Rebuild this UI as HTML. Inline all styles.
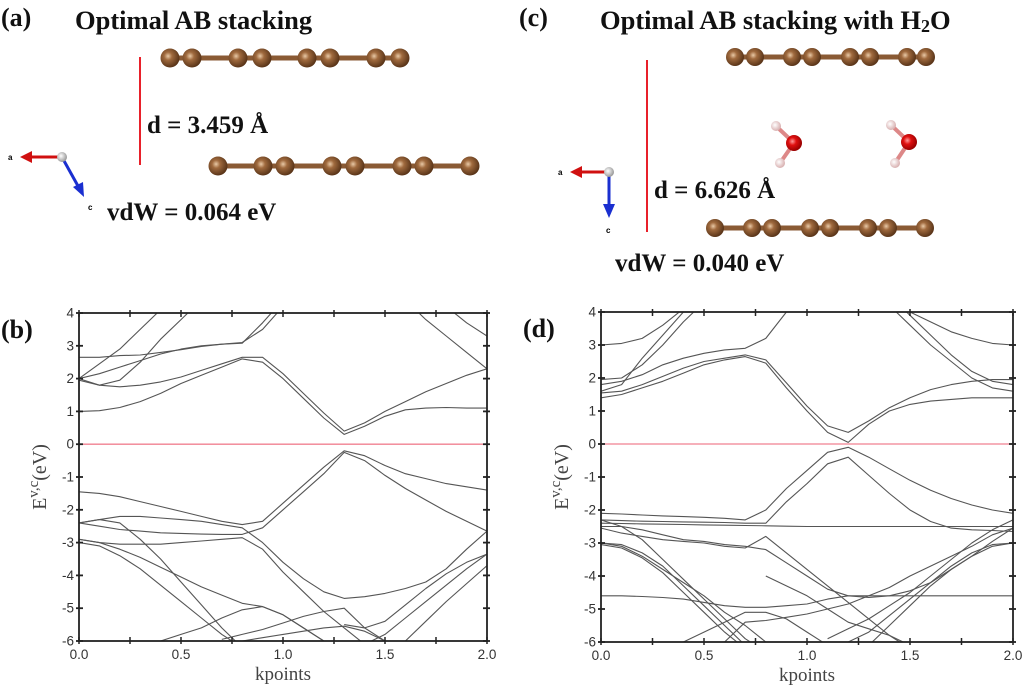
<!DOCTYPE html>
<html><head><meta charset="utf-8">
<style>
html,body{margin:0;padding:0;background:#fff;}
svg{display:block;}
.t{font-family:"Liberation Serif",serif;font-weight:bold;fill:#111;}
.tk{font-family:"Liberation Sans",sans-serif;font-size:13.5px;fill:#333;}
</style></head>
<body>
<svg id="fig" width="1024" height="691" viewBox="0 0 1024 691" xmlns="http://www.w3.org/2000/svg">
<defs>
<radialGradient id="cg" cx="40%" cy="40%" r="60%"><stop offset="0" stop-color="#e9c9a6"/><stop offset="0.35" stop-color="#a06a3e"/><stop offset="1" stop-color="#5a3519"/></radialGradient>
<radialGradient id="og" cx="40%" cy="40%" r="60%"><stop offset="0" stop-color="#ff9a9a"/><stop offset="0.4" stop-color="#e01010"/><stop offset="1" stop-color="#900"/></radialGradient>
<radialGradient id="hg" cx="40%" cy="40%" r="60%"><stop offset="0" stop-color="#fff"/><stop offset="1" stop-color="#d8b0b0"/></radialGradient>
<radialGradient id="gg" cx="40%" cy="40%" r="60%"><stop offset="0" stop-color="#fff"/><stop offset="1" stop-color="#999"/></radialGradient>
</defs>

<!-- Panel a -->
<g>
<text class="t" x="1" y="26" font-size="26">(a)</text>
<text class="t" x="75" y="29" font-size="26.5">Optimal AB stacking</text>
<line x1="140" y1="57" x2="140" y2="165" stroke="#e8202a" stroke-width="2"/>
<text class="t" x="147" y="133" font-size="25">d = 3.459 Å</text>
<text class="t" x="107" y="220" font-size="25">vdW = 0.064 eV</text>
<g id="layerA1"></g>
<g id="layerA2"></g>
<g>
<line x1="60" y1="157" x2="30" y2="157" stroke="#d01010" stroke-width="3"/>
<polygon points="20,157 32,151 32,163" fill="#d01010"/>
<line x1="63" y1="159" x2="78" y2="186" stroke="#1a2fd0" stroke-width="3"/>
<polygon points="84,197 73,187 83,182" fill="#1a2fd0"/>
<circle cx="62" cy="157" r="5" fill="url(#gg)"/>
<text x="8" y="160" font-size="8" font-family="Liberation Sans" font-weight="bold">a</text>
<text x="88" y="210" font-size="8" font-family="Liberation Sans" font-weight="bold">c</text>
</g>
</g>

<!-- Panel c -->
<g>
<text class="t" x="519" y="26" font-size="26">(c)</text>
<text class="t" x="600" y="29" font-size="26.5">Optimal AB stacking with H<tspan font-size="18" dy="3">2</tspan><tspan dy="-3">O</tspan></text>
<line x1="647" y1="60" x2="647" y2="232" stroke="#e8202a" stroke-width="2"/>
<text class="t" x="654" y="198" font-size="25">d = 6.626 Å</text>
<text class="t" x="615" y="271" font-size="25">vdW = 0.040 eV</text>
<g id="layerC1"></g>
<g id="layerC2"></g>
<g>
<line x1="776" y1="126" x2="794" y2="143" stroke="#d88" stroke-width="4"/><line x1="780" y1="163" x2="794" y2="143" stroke="#d88" stroke-width="4"/>
<circle cx="776" cy="126" r="5" fill="url(#hg)"/><circle cx="780" cy="163" r="5" fill="url(#hg)"/><circle cx="794" cy="143" r="8" fill="url(#og)"/>
</g>
<g>
<line x1="891" y1="125" x2="909" y2="142" stroke="#d88" stroke-width="4"/><line x1="895" y1="163" x2="909" y2="142" stroke="#d88" stroke-width="4"/>
<circle cx="891" cy="125" r="5" fill="url(#hg)"/><circle cx="895" cy="163" r="5" fill="url(#hg)"/><circle cx="909" cy="142" r="8" fill="url(#og)"/>
</g>
<g>
<line x1="607" y1="172" x2="580" y2="172" stroke="#d01010" stroke-width="3"/>
<polygon points="570,172 582,166 582,178" fill="#d01010"/>
<line x1="609" y1="175" x2="609" y2="205" stroke="#1a2fd0" stroke-width="3"/>
<polygon points="609,218 603,204 615,204" fill="#1a2fd0"/>
<circle cx="609" cy="172" r="5" fill="url(#gg)"/>
<text x="558" y="175" font-size="8" font-family="Liberation Sans" font-weight="bold">a</text>
<text x="606" y="233" font-size="8" font-family="Liberation Sans" font-weight="bold">c</text>
</g>
</g>

<g id="plotB"></g>
<g id="plotD"></g>
</svg>

<script>
var NS = "http://www.w3.org/2000/svg";
// ---- Data ----
var kGrid = [0,0.1,0.2,0.3,0.4,0.5,0.6,0.7,0.8,0.9,1.0,1.1,1.2,1.3,1.4,1.5,1.6,1.7,1.8,1.9,2.0];
var yTicks = [4,3,2,1,0,-1,-2,-3,-4,-5,-6];
var xTicks = [0,0.5,1.0,1.5,2.0];
var xTickLabels = ["0.0","0.5","1.0","1.5","2.0"];
var fermiLevel = 0;
var N = null;
var bandsB = [
 [1.0,1.02,1.12,1.3,1.55,1.85,2.1,2.35,2.6,2.5,2.0,1.4,0.8,0.3,0.55,0.85,1.05,1.1,1.12,1.1,1.1],
 [2.0,1.8,1.75,1.8,1.9,2.05,2.25,2.45,2.65,2.65,2.15,1.55,0.95,0.4,0.65,1.0,1.3,1.6,1.85,2.1,2.3],
 [2.0,2.15,2.35,2.55,2.75,2.9,3.0,3.05,3.1,3.5,4.2,N,N,N,N,N,N,N,N,N,N],
 [2.65,2.65,2.7,2.72,2.8,2.88,2.98,3.05,3.08,3.7,4.4,N,N,N,N,N,N,N,N,N,N],
 [1.95,1.8,1.95,2.5,3.2,3.8,4.4,N,N,N,N,N,N,N,N,N,N,N,N,N,N],
 [2.0,2.45,2.9,3.5,4.1,N,N,N,N,N,N,N,N,N,N,N,N,N,N,N,N],
 [N,N,N,N,N,N,N,N,N,N,N,N,N,N,N,N,4.4,3.8,3.3,2.8,2.3],
 [N,N,N,N,N,N,N,N,N,N,N,N,N,N,N,N,N,N,4.2,3.7,3.3],
 [-1.45,-1.5,-1.6,-1.75,-1.9,-2.05,-2.2,-2.35,-2.45,-2.35,-1.8,-1.25,-0.7,-0.2,-0.35,-0.65,-0.9,-1.05,-1.2,-1.3,-1.4],
 [-2.4,-2.5,-2.6,-2.65,-2.7,-2.72,-2.74,-2.75,-2.75,-2.55,-2.0,-1.45,-0.9,-0.25,-0.5,-0.95,-1.35,-1.7,-2.05,-2.35,-2.65],
 [-2.4,-2.3,-2.2,-2.2,-2.25,-2.3,-2.35,-2.45,-2.55,-3.0,-3.6,-4.1,-4.5,-4.7,-4.65,-4.55,-4.4,-4.2,-3.8,-3.2,-2.65],
 [-2.4,-2.3,-2.4,-2.9,-3.5,-4.2,-4.9,-5.6,-6.2,N,N,N,N,N,N,N,N,N,N,N,N],
 [-2.9,-3.0,-3.05,-3.05,-3.05,-3.0,-2.95,-2.9,-2.85,-3.2,-3.9,-4.5,-5.1,-5.6,-6.1,N,N,N,N,N,N],
 [-2.9,-3.0,-3.2,-3.45,-3.75,-4.05,-4.35,-4.6,-4.85,-4.95,-5.2,-5.6,-6.0,N,N,N,N,N,N,N,N],
 [-3.0,-3.1,-3.4,-3.8,-4.3,-4.8,-5.3,-5.8,-6.2,N,N,N,N,N,N,N,N,N,N,N,N],
 [N,N,N,N,-6.0,-5.8,-5.6,-5.3,-5.05,-4.95,-5.2,-5.6,-6.0,N,N,N,N,N,N,N,N],
 [N,N,N,N,N,N,N,-5.95,-5.8,-5.65,-5.45,-5.25,-5.1,-5.0,-5.6,-6.0,N,N,N,N,N],
 [N,N,N,N,N,N,N,N,-6.0,-5.9,-5.8,-5.7,-5.6,-5.55,-5.7,-6.0,N,N,N,N,N],
 [N,N,N,N,N,N,N,N,N,N,N,N,N,N,-6.1,-5.8,-5.3,-4.8,-4.3,-3.8,-3.35],
 [N,N,N,N,N,N,N,N,N,N,N,N,N,N,N,-6.3,-6.0,-5.4,-4.8,-4.25,-3.7],
 [N,N,N,N,N,N,N,N,N,N,N,N,N,-5.5,-5.6,-5.4,-4.9,-4.4,-3.95,-3.6,-3.35]
];
var bandsD = [
 [1.4,1.5,1.7,1.9,2.15,2.4,2.55,2.65,2.45,1.7,1.0,0.35,0.05,0.6,1.0,1.2,1.3,1.35,1.4,1.4,1.4],
 [1.55,1.6,1.8,2.05,2.3,2.5,2.6,2.7,2.55,1.85,1.15,0.55,0.35,0.7,1.1,1.4,1.65,1.8,1.9,1.95,1.95],
 [1.8,1.9,2.1,2.4,2.6,2.75,2.85,2.9,3.2,4.0,N,N,N,N,N,N,N,N,N,N,N],
 [1.95,2.0,2.4,3.0,3.7,4.3,N,N,N,N,N,N,N,N,N,N,N,N,N,N,N],
 [1.6,1.8,2.6,3.3,4.0,N,N,N,N,N,N,N,N,N,N,N,N,N,N,N,N],
 [3.0,3.05,3.2,3.6,4.1,N,N,N,N,N,N,N,N,N,N,N,N,N,N,N,N],
 [N,N,N,N,N,N,N,N,N,N,N,N,N,N,4.2,3.6,3.0,2.5,2.0,1.7,1.6],
 [N,N,N,N,N,N,N,N,N,N,N,N,N,N,4.5,3.9,3.3,2.7,2.2,1.9,1.8],
 [N,N,N,N,N,N,N,N,N,N,N,N,N,N,N,4.0,3.7,3.4,3.2,3.05,3.0],
 [-2.1,-2.12,-2.15,-2.18,-2.2,-2.22,-2.25,-2.3,-2.0,-1.35,-0.8,-0.25,-0.1,-0.4,-0.75,-1.1,-1.4,-1.65,-1.85,-2.0,-2.1],
 [-2.3,-2.32,-2.34,-2.35,-2.36,-2.37,-2.38,-2.4,-2.4,-1.75,-1.2,-0.6,-0.4,-0.95,-1.5,-2.0,-2.35,-2.55,-2.6,-2.62,-2.65],
 [-2.4,-2.41,-2.42,-2.43,-2.44,-2.45,-2.46,-2.47,-2.48,-2.49,-2.5,-2.5,-2.5,-2.5,-2.5,-2.5,-2.5,-2.5,-2.5,-2.5,-2.5],
 [-2.55,-2.7,-2.8,-2.9,-2.95,-3.0,-3.1,-3.15,-2.8,-3.3,-3.8,-4.3,-4.8,-5.3,-5.8,-6.2,N,N,N,N,N],
 [-2.5,-2.5,-2.6,-2.75,-2.9,-2.95,-3.05,-3.1,-3.2,-3.6,-4.0,-4.4,-4.6,-4.65,-4.6,-4.45,-4.2,-3.8,-3.4,-2.95,-2.55],
 [-4.6,-4.6,-4.62,-4.65,-4.7,-4.8,-4.9,-4.95,-4.95,-4.9,-4.85,-4.7,-4.6,-4.6,-4.6,-4.6,-4.6,-4.6,-4.6,-4.6,-4.6],
 [-2.3,-2.5,-2.9,-3.5,-4.1,-4.7,-5.3,-5.9,-6.3,N,N,N,N,N,N,N,N,N,N,N,N],
 [-3.0,-3.1,-3.4,-3.8,-4.2,-4.6,-5.1,-5.5,-6.0,-6.3,N,N,N,N,N,N,N,N,N,N,N],
 [-3.0,-3.05,-3.3,-3.7,-4.3,-4.9,-5.5,-6.1,N,N,N,N,N,N,N,N,N,N,N,N,N],
 [-3.05,-3.15,-3.45,-3.9,-4.5,-5.1,-5.7,-6.2,N,N,N,N,N,N,N,N,N,N,N,N,N],
 [N,N,N,N,-6.0,-5.7,-5.4,-5.1,-5.1,-5.3,-5.7,-6.1,N,N,N,N,N,N,N,N,N],
 [N,N,N,N,N,N,-6.0,-5.4,-5.35,-5.25,-5.15,-5.0,-4.85,-4.6,-4.35,-4.0,-3.7,-3.4,-3.1,-2.75,-2.55],
 [N,N,N,N,N,N,N,N,N,N,N,-5.9,-5.6,-5.3,-4.9,-4.5,-4.0,-3.5,-3.0,-2.6,-2.3],
 [N,N,N,N,N,N,N,N,N,N,N,N,-6.0,-5.7,-5.2,-4.7,-4.2,-3.7,-3.3,-3.05,-3.0],
 [N,N,N,N,N,N,N,N,N,N,N,N,N,-6.1,-5.5,-4.9,-4.3,-3.8,-3.4,-3.1,-3.0],
 [N,N,N,N,N,N,N,N,-4.0,-4.3,-4.6,-5.0,-5.4,-5.6,-5.8,-6.1,N,N,N,N,N]
];
var atomsA1 = [170,192,238,262,307,330,376,400];
var atomsA2 = [218,263,285,332,355,402,424,470];
var atomsC1 = [735,755,792,812,850,870,907,926];
var atomsC2 = [715,752,772,810,830,868,888,925];

function graphene(id, xs, y, r){
  var g = document.getElementById(id);
  var ln = document.createElementNS(NS,'line');
  ln.setAttribute('x1',xs[0]);ln.setAttribute('x2',xs[xs.length-1]);
  ln.setAttribute('y1',y);ln.setAttribute('y2',y);
  ln.setAttribute('stroke','#8a5a34');ln.setAttribute('stroke-width','5');
  
  
  g.appendChild(ln);
  xs.forEach(function(x){
    var c=document.createElementNS(NS,'circle');
    c.setAttribute('cx',x);c.setAttribute('cy',y);c.setAttribute('r',r);
    c.setAttribute('fill','url(#cg)');
    
    
    g.appendChild(c);
  });
}
graphene('layerA1',atomsA1,58,9.5);
graphene('layerA2',atomsA2,166,9.5);
graphene('layerC1',atomsC1,57,9);
graphene('layerC2',atomsC2,228,9);

function el(parent, tag, attrs){
  var e=document.createElementNS(NS,tag);
  for(var k in attrs) e.setAttribute(k,attrs[k]);
  parent.appendChild(e); return e;
}

function plot(id, bands, L, R, T, B, label){
  var g=document.getElementById(id);
  var xS=function(k){return L+(k-0)/(2-0)*(R-L);};
  var yS=function(E){return T+(4-E)/(4-(-6))*(B-T);};
  var clipId=id+'-clip';
  var cp=el(g,'clipPath',{id:clipId});
  el(cp,'rect',{x:L,y:T,width:R-L,height:B-T});
  var lines=el(g,'g',{'clip-path':'url(#'+clipId+')'});
  
  
  bands.forEach(function(b){
    var d='',pen=false;
    for(var i=0;i<kGrid.length;i++){
      if(b[i]===null){pen=false;continue;}
      d+=(pen?'L':'M')+xS(kGrid[i]).toFixed(1)+','+yS(b[i]).toFixed(1);
      pen=true;
    }
    var p=el(lines,'path',{d:d,fill:'none',stroke:'#555','stroke-width':'1.1','stroke-linejoin':'round'});
    
    
  });
  var f=el(g,'line',{x1:L,x2:R,y1:yS(fermiLevel),y2:yS(fermiLevel),stroke:'#f08090','stroke-width':'1.3'});
  
  
  var fr=el(g,'rect',{x:L,y:T,width:R-L,height:B-T,fill:'none',stroke:'#222','stroke-width':'1.8'});
  
  
  yTicks.forEach(function(v){
    var y=yS(v);
    el(g,'line',{x1:L-3,x2:L+4,y1:y,y2:y,stroke:'#222','stroke-width':'1.8'});
    el(g,'line',{x1:R-4,x2:R+3,y1:y,y2:y,stroke:'#222','stroke-width':'1.8'});
    var t=el(g,'text',{x:L-5,y:y+4.5,'text-anchor':'end','class':'tk'});
    t.textContent=v;
    
    
  });
  for(var k=0;k<=2.0001;k+=0.25){
    var x=xS(k);
    el(g,'line',{x1:x,x2:x,y1:T-3,y2:T+4,stroke:'#222','stroke-width':'1.5'});
    el(g,'line',{x1:x,x2:x,y1:B-4,y2:B+3,stroke:'#222','stroke-width':'1.5'});
  }
  xTicks.forEach(function(v,i){
    var t=el(g,'text',{x:xS(v),y:B+18,'text-anchor':'middle','class':'tk'});
    t.textContent=xTickLabels[i];
    
    
  });
  var xt=el(g,'text',{x:(L+R)/2,y:B+39,'text-anchor':'middle','font-family':'Liberation Serif, serif','font-size':'19',fill:'#444'});
  xt.textContent='kpoints';
  
  
  var cy=(T+B)/2, cx=L-33;
  var yt=el(g,'text',{x:cx,y:cy,'text-anchor':'middle','font-family':'Liberation Serif, serif','font-size':'20',fill:'#444',transform:'rotate(-90 '+cx+' '+cy+')'});
  yt.innerHTML='E<tspan dy="-8" font-size="15">v,c</tspan><tspan dy="8">(eV)</tspan>';
  
  
  var pl=el(g,'text',{x:L-78,y:T+25,'class':'t','font-size':'26'});
  pl.textContent=label;
  
  
}
plot('plotB',bandsB,79,487,313,641,'(b)');
plot('plotD',bandsD,601,1013,312,642,'(d)');
</script>
</body></html>
